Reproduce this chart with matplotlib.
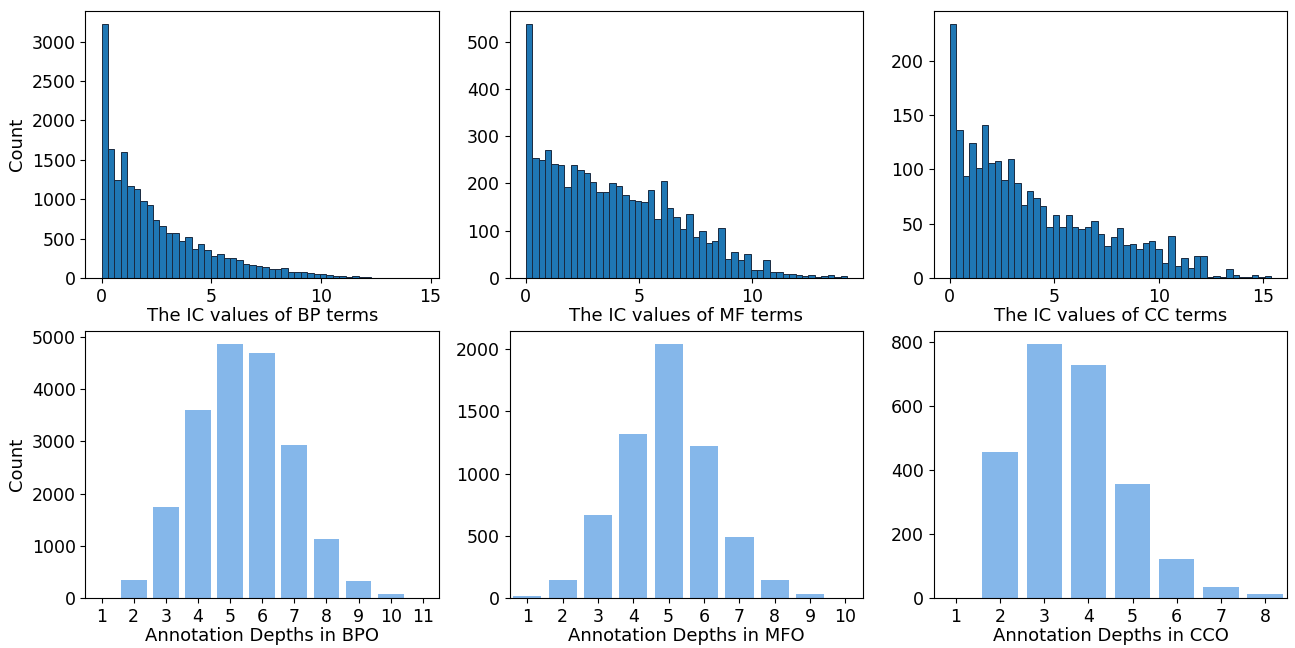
import numpy as np
import matplotlib
matplotlib.use("Agg")
import matplotlib.pyplot as plt

# IC histograms: 50 equal bins from 0 to the max IC value, counts
bp_ic_max = 14.65
bp_ic_counts = [3229, 1640, 1241, 1597, 1165, 1131, 983, 924, 737, 661,
                568, 568, 470, 517, 369, 428, 360, 275, 301, 258,
                250, 233, 178, 165, 148, 136, 119, 110, 123, 76,
                76, 72, 64, 55, 47, 38, 30, 21, 8, 21,
                13, 8, 4, 4, 3, 3, 2, 2, 1, 3]
bp_ic_ticks = [0, 5, 10, 15]

mf_ic_max = 14.2
mf_ic_counts = [538, 254, 249, 271, 240, 238, 192, 239, 228, 223,
                203, 182, 182, 201, 195, 176, 164, 163, 161, 187,
                124, 205, 148, 129, 103, 135, 86, 100, 73, 78,
                105, 40, 54, 37, 51, 17, 17, 37, 13, 12,
                9, 8, 7, 4, 7, 1, 4, 6, 1, 4]
mf_ic_ticks = [0, 5, 10]

cc_ic_max = 15.37
cc_ic_counts = [234, 136, 94, 124, 101, 141, 106, 108, 90, 109,
                87, 67, 80, 74, 66, 47, 58, 47, 58, 47,
                45, 47, 52, 40, 29, 38, 46, 30, 31, 27,
                32, 34, 27, 14, 39, 11, 18, 9, 20, 20,
                1, 2, 1, 8, 3, 1, 1, 3, 1, 2]
cc_ic_ticks = [0, 5, 10, 15]

# annotation depth counts
bpo_depths = [1, 2, 3, 4, 5, 6, 7, 8, 9, 10, 11]
bpo_counts = [5, 338, 1743, 3595, 4860, 4693, 2925, 1124, 326, 70, 3]
mfo_depths = [1, 2, 3, 4, 5, 6, 7, 8, 9, 10]
mfo_counts = [19, 147, 670, 1314, 2040, 1220, 491, 145, 32, 2]
cco_depths = [1, 2, 3, 4, 5, 6, 7, 8]
cco_counts = [1, 455, 793, 726, 356, 121, 34, 12]

hist_rows = [
    (bp_ic_max, bp_ic_counts, bp_ic_ticks, "The IC values of BP terms"),
    (mf_ic_max, mf_ic_counts, mf_ic_ticks, "The IC values of MF terms"),
    (cc_ic_max, cc_ic_counts, cc_ic_ticks, "The IC values of CC terms"),
]
bar_rows = [
    (bpo_depths, bpo_counts, "Annotation Depths in BPO"),
    (mfo_depths, mfo_counts, "Annotation Depths in MFO"),
    (cco_depths, cco_counts, "Annotation Depths in CCO"),
]

plt.rcParams["xtick.labelsize"] = 12.5
plt.rcParams["ytick.labelsize"] = 12.5
plt.rcParams["axes.labelsize"] = 13

fig, axes = plt.subplots(2, 3, figsize=(12.95, 6.48), dpi=100)
fig.subplots_adjust(left=0.066, right=0.994, top=0.983, bottom=0.077,
                    wspace=0.2, hspace=0.2)

for ax, (vmax, counts, ticks, label) in zip(axes[0], hist_rows):
    edges = np.linspace(0, vmax, len(counts) + 1)
    ax.hist(edges[:-1], bins=edges, weights=counts, color="#1f77b4",
            edgecolor="#1a2a40", linewidth=0.7)
    ax.set_xticks(ticks)
    ax.set_xlim(-0.05 * vmax, 1.05 * vmax)
    ax.set_xlabel(label, labelpad=1)

for ax, (depths, counts, label) in zip(axes[1], bar_rows):
    ax.bar(depths, counts, color="#85b7ea", width=0.8)
    ax.set_xticks(depths)
    ax.set_xlim(depths[0] - 0.5, depths[-1] + 0.5)
    ax.set_xlabel(label, labelpad=1)

axes[0][0].set_ylabel("Count")
axes[1][0].set_ylabel("Count")
axes[1][0].set_yticks(range(0, 5001, 1000))
axes[1][2].set_yticks(range(0, 801, 200))

fig.savefig("out.png", dpi=100)
